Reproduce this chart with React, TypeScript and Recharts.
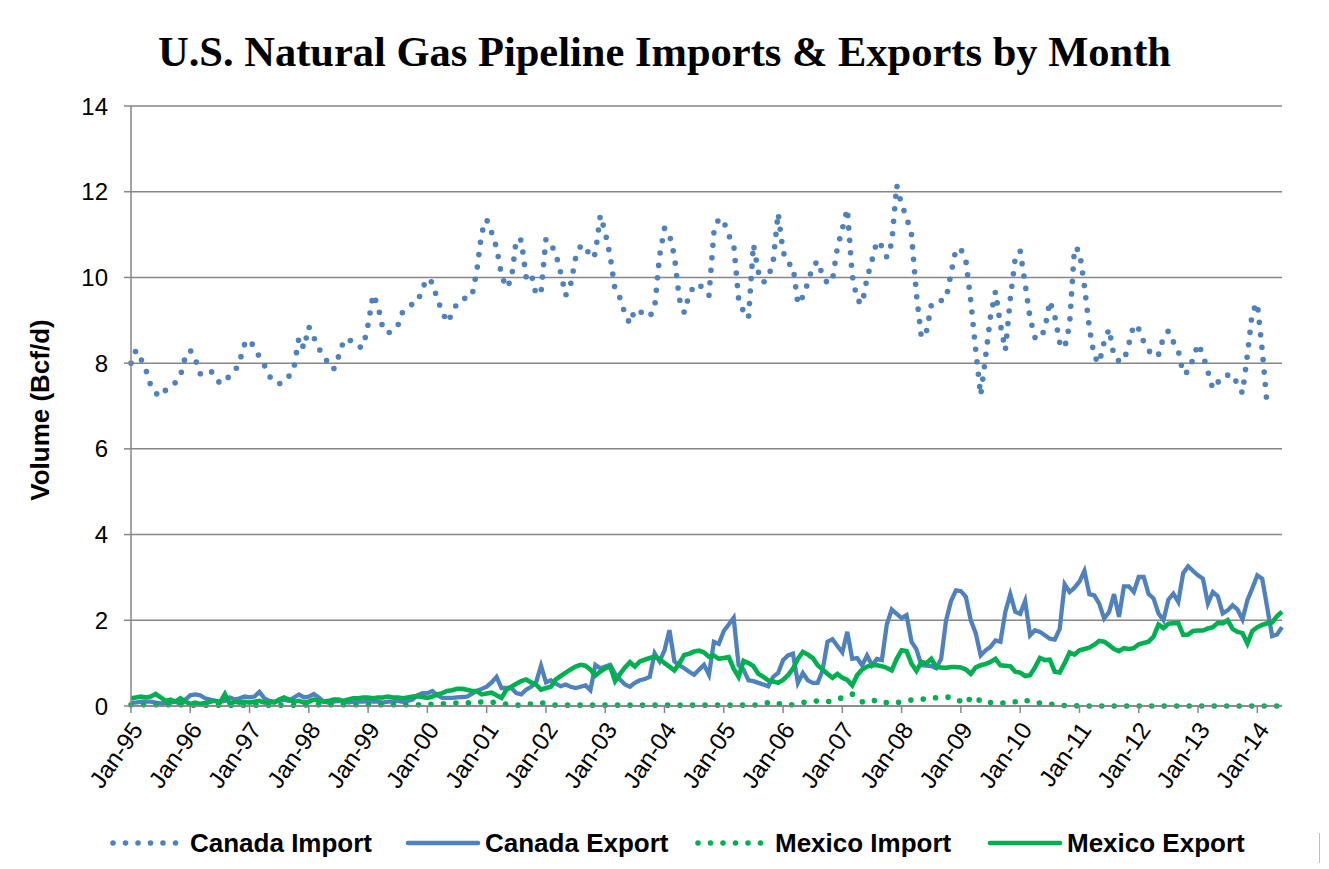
import React from "react";
import { LineChart, Line, XAxis, YAxis, CartesianGrid } from "recharts";

const years = ["95", "96", "97", "98", "99", "00", "01", "02", "03", "04", "05", "06", "07", "08", "09", "10", "11", "12", "13", "14"];
const monthNames = ["Jan", "Feb", "Mar", "Apr", "May", "Jun", "Jul", "Aug", "Sep", "Oct", "Nov", "Dec"];
const yTicks = [0, 2, 4, 6, 8, 10, 12, 14];

// Bcf/d, Jan-95 .. Jun-14
const canadaImport = [
  8.0, 8.3, 8.1, 7.85, 7.48, 7.3, 7.22, 7.37, 7.43, 7.55, 7.7, 8.15,
  8.3, 8.1, 7.75, 7.8, 7.83, 7.72, 7.52, 7.6, 7.7, 7.8, 8.05, 8.44,
  8.55, 8.35, 8.15, 7.95, 7.7, 7.55, 7.52, 7.55, 7.7, 7.9, 8.6, 8.35,
  8.85, 8.6, 8.35, 8.15, 8.0, 7.85, 8.15, 8.5, 8.58, 8.45, 8.37, 8.38,
  8.9, 9.6, 9.34, 8.8, 8.7, 8.75, 8.87, 9.2, 9.3, 9.38, 9.42, 9.75,
  9.98, 9.88, 9.5, 9.2, 8.95, 9.15, 9.4, 9.5, 9.52, 9.55, 10.15, 11.05,
  11.35, 11.05, 10.7, 10.05, 9.76, 9.95, 10.9, 10.87, 10.0, 10.1, 9.6, 9.65,
  10.9, 10.78, 10.55, 10.1, 9.58, 9.84, 10.45, 10.73, 10.74, 10.45, 10.55, 11.45,
  11.05, 10.5, 9.7, 9.52, 9.15, 8.92, 9.25, 9.2, 9.15, 9.08, 9.3, 10.5,
  11.15, 11.0, 10.5, 9.5, 9.18, 9.6, 9.8, 9.85, 9.7, 9.58, 11.05, 11.38,
  11.3, 10.98, 10.78, 9.5, 9.2, 9.05, 10.77, 10.13, 9.88, 10.0, 10.38, 11.5,
  10.6, 10.32, 10.28, 9.38, 9.55, 9.87, 10.25, 10.38, 10.05, 9.86, 9.94, 10.7,
  11.13, 11.6, 10.05, 9.48, 9.38, 9.98, 10.4, 10.85, 10.73, 10.47, 10.8, 12.15,
  11.7, 11.4, 11.0, 9.6, 8.6, 8.72, 9.35, 9.46, 9.46, 9.5, 10.1, 10.66,
  10.66, 10.4, 9.45, 8.3, 7.25, 8.15, 9.1, 9.67, 8.9, 8.3, 9.5, 10.45,
  10.62, 9.85, 9.05, 8.6, 8.56, 8.8, 9.45, 9.1, 8.48, 8.35, 8.9, 10.7,
  10.62, 9.8, 8.83, 8.15, 8.0, 8.5, 8.8, 8.15, 8.05, 8.05, 8.45, 8.9,
  8.8, 8.5, 8.3, 8.15, 8.2, 8.6, 8.75, 8.5, 8.3, 7.75, 7.8, 8.1,
  8.45, 8.2, 7.8, 7.4, 7.55, 7.7, 7.72, 7.74, 7.5, 7.3, 8.2, 9.2,
  9.4, 8.3, 7.0, null, null, null,
];

const canadaExport = [
  0.08, 0.08, 0.1, 0.1, 0.1, 0.08, 0.06, 0.07, 0.08, 0.1, 0.05, 0.15,
  0.25, 0.27, 0.25, 0.18, 0.15, 0.12, 0.1, 0.12, 0.2, 0.15, 0.18, 0.22,
  0.2, 0.22, 0.33, 0.18, 0.12, 0.1, 0.12, 0.15, 0.12, 0.2, 0.27, 0.2,
  0.22, 0.28, 0.2, 0.1, 0.08, 0.1, 0.12, 0.1, 0.08, 0.1, 0.1, 0.1,
  0.12, 0.1, 0.1, 0.08, 0.1, 0.1, 0.12, 0.1, 0.12, 0.15, 0.25, 0.3,
  0.3, 0.35, 0.25, 0.19, 0.19, 0.19, 0.2, 0.21, 0.22, 0.28, 0.35, 0.4,
  0.45, 0.55, 0.68, 0.42, 0.42, 0.42, 0.3, 0.27, 0.38, 0.45, 0.55, 0.94,
  0.55, 0.6, 0.52, 0.46, 0.5, 0.45, 0.42, 0.45, 0.48, 0.37, 0.96, 0.88,
  0.92, 0.96, 0.75, 0.62, 0.5, 0.45, 0.54, 0.6, 0.63, 0.68, 1.23, 1.04,
  1.3, 1.77, 1.04, 0.95, 0.88, 0.8, 0.73, 0.85, 0.96, 0.73, 1.5, 1.45,
  1.75, 1.9, 2.06, 0.95, 0.85, 0.6, 0.58, 0.54, 0.5, 0.46, 0.68, 0.77,
  1.07, 1.18, 1.22, 0.54, 0.77, 0.6, 0.54, 0.54, 0.83, 1.5, 1.56, 1.4,
  1.25, 1.73, 1.1, 1.12, 0.95, 1.18, 0.95, 1.1, 1.07, 1.9, 2.25, 2.15,
  2.05, 2.12, 1.5, 1.32, 0.95, 0.94, 0.93, 0.88, 1.1, 2.0, 2.45, 2.7,
  2.68, 2.55, 2.0, 1.7, 1.18, 1.3, 1.38, 1.53, 1.5, 2.2, 2.61, 2.2,
  2.15, 2.45, 1.65, 1.77, 1.73, 1.65, 1.57, 1.55, 1.8, 2.84, 2.66, 2.76,
  2.9, 3.15, 2.61, 2.58, 2.39, 2.04, 2.19, 2.61, 2.08, 2.79, 2.79, 2.66,
  3.01, 3.01, 2.61, 2.51, 2.16, 2.0, 2.48, 2.62, 2.43, 3.1, 3.26, 3.15,
  3.05, 2.97, 2.39, 2.66, 2.56, 2.16, 2.23, 2.35, 2.25, 2.02, 2.47, 2.75,
  3.05, 2.97, 2.3, 1.63, 1.67, 1.84,
];

const mexicoImport = [
  0.03, 0.03, 0.03, 0.03, 0.03, 0.03, 0.03, 0.03, 0.03, 0.03, 0.03, 0.03,
  0.02, 0.02, 0.02, 0.02, 0.02, 0.02, 0.02, 0.02, 0.02, 0.02, 0.02, 0.02,
  0.02, 0.02, 0.02, 0.02, 0.02, 0.02, 0.02, 0.02, 0.02, 0.02, 0.02, 0.02,
  0.03, 0.03, 0.03, 0.03, 0.03, 0.03, 0.03, 0.03, 0.03, 0.03, 0.03, 0.03,
  0.03, 0.03, 0.03, 0.03, 0.03, 0.03, 0.03, 0.03, 0.03, 0.03, 0.03, 0.03,
  0.03, 0.04, 0.05, 0.05, 0.06, 0.06, 0.07, 0.06, 0.07, 0.08, 0.1, 0.09,
  0.1, 0.09, 0.08, 0.06, 0.04, 0.03, 0.02, 0.02, 0.03, 0.05, 0.07, 0.08,
  0.05, 0.03, 0.02, 0.02, 0.02, 0.02, 0.02, 0.02, 0.02, 0.02, 0.02, 0.02,
  0.02, 0.02, 0.02, 0.02, 0.02, 0.02, 0.02, 0.02, 0.02, 0.02, 0.02, 0.02,
  0.02, 0.02, 0.02, 0.02, 0.02, 0.02, 0.02, 0.02, 0.02, 0.02, 0.02, 0.02,
  0.02, 0.02, 0.02, 0.02, 0.02, 0.02, 0.02, 0.03, 0.05, 0.08, 0.1, 0.06,
  0.03, 0.02, 0.03, 0.05, 0.08, 0.1, 0.1, 0.12, 0.12, 0.1, 0.12, 0.15,
  0.2, 0.25, 0.28, 0.2, 0.1, 0.12, 0.15, 0.1, 0.06, 0.08, 0.1, 0.08,
  0.1, 0.12, 0.14, 0.13, 0.15, 0.18, 0.2, 0.19, 0.2, 0.21, 0.2, 0.18,
  0.1, 0.05, 0.2, 0.22, 0.1, 0.06, 0.08, 0.1, 0.08, 0.06, 0.08, 0.1,
  0.15, 0.14, 0.1, 0.08, 0.07, 0.06, 0.05, 0.03, 0.02, 0.01, 0.01, 0.01,
  0, 0, 0, 0, 0, 0, 0, 0, 0, 0, 0, 0,
  0, 0, 0, 0, 0, 0, 0, 0, 0, 0, 0, 0,
  0, 0, 0, 0, 0, 0, 0, 0, 0, 0, 0, 0,
  0, 0, 0, 0, 0, 0,
];

const mexicoExport = [
  0.18, 0.2, 0.22, 0.2, 0.22, 0.28, 0.2, 0.12, 0.15, 0.1, 0.18, 0.1,
  0.05, 0.08, 0.05, 0.07, 0.1, 0.12, 0.08, 0.28, 0.05, 0.1, 0.08, 0.1,
  0.08, 0.1, 0.12, 0.08, 0.1, 0.08, 0.15, 0.2, 0.15, 0.1, 0.12, 0.08,
  0.1, 0.15, 0.12, 0.1, 0.12, 0.15, 0.15, 0.12, 0.15, 0.18, 0.18, 0.2,
  0.2, 0.18, 0.2, 0.2, 0.22, 0.2, 0.2, 0.18, 0.2, 0.22, 0.23, 0.21,
  0.19, 0.22, 0.27, 0.3, 0.35, 0.37, 0.4, 0.4, 0.38, 0.35, 0.35, 0.27,
  0.29, 0.31, 0.25, 0.19, 0.38, 0.45, 0.52, 0.58, 0.62, 0.55, 0.5, 0.38,
  0.42, 0.45, 0.62, 0.7, 0.78, 0.85, 0.92, 0.96, 0.94, 0.85, 0.71, 0.8,
  0.88, 0.92, 0.58, 0.75, 0.9, 1.02, 0.92, 1.04, 1.08, 1.12, 1.15, 1.1,
  1.0, 0.92, 0.83, 1.0, 1.19, 1.22, 1.27, 1.29, 1.25, 1.15, 1.18, 1.1,
  1.12, 1.14, 0.87, 0.68, 1.05, 1.0, 0.93, 0.75, 0.68, 0.6, 0.57, 0.54,
  0.61, 0.72, 0.87, 1.1, 1.26, 1.2, 1.12, 0.95, 0.85, 0.75, 0.66, 0.75,
  0.66, 0.61, 0.48, 0.72, 0.85, 0.92, 0.95, 0.95, 0.93, 0.89, 0.83, 1.1,
  1.3, 1.28, 0.99, 0.82, 1.03, 1.0, 1.1, 0.91, 0.9, 0.89, 0.91, 0.91,
  0.9, 0.85, 0.75, 0.9, 0.95, 0.98, 1.03, 1.1, 0.95, 0.94, 0.93, 0.8,
  0.78, 0.7, 0.72, 0.9, 1.12, 1.07, 1.08, 0.8, 0.78, 1.0, 1.25, 1.2,
  1.3, 1.33, 1.36, 1.43, 1.52, 1.5, 1.42, 1.33, 1.28, 1.35, 1.33, 1.35,
  1.44, 1.47, 1.5, 1.62, 1.9, 1.82, 1.92, 1.93, 1.94, 1.66, 1.67, 1.75,
  1.76, 1.76, 1.81, 1.84, 1.94, 1.93, 2.0, 1.8, 1.73, 1.7, 1.46, 1.75,
  1.84, 1.89, 1.93, 1.95, 2.1, 2.2,
];

const months: string[] = [];
years.forEach((y) => monthNames.forEach((m) => months.push(`${m}-${y}`)));

const data = canadaExport.map((_, i) => ({
  month: months[i],
  canadaImport: canadaImport[i],
  canadaExport: canadaExport[i],
  mexicoImport: mexicoImport[i],
  mexicoExport: mexicoExport[i],
}));

const BLUE = "#4F81BD";
const GREEN = "#00B050";
const AXIS = "#868686";
const FONT = "Arial, 'Liberation Sans', sans-serif";
const DOTS = "0 12.5";

function XTick({ x, y, payload }: any) {
  return (
    <text
      x={x + 6}
      y={y + 10}
      transform={`rotate(-55 ${x + 6} ${y + 10})`}
      textAnchor="end"
      dy="0.35em"
      fontSize={24}
      fontFamily={FONT}
      fill="#000"
    >
      {payload.value}
    </text>
  );
}

const legendItems = [
  { label: "Canada Import", color: BLUE, dotted: true, left: 95 },
  { label: "Canada Export", color: BLUE, dotted: false, left: 390 },
  { label: "Mexico Import", color: GREEN, dotted: true, left: 680 },
  { label: "Mexico Export", color: GREEN, dotted: false, left: 972 },
];

export default function App() {
  return (
    <div style={{ position: "relative", width: 1313, height: 855, fontFamily: FONT }}>
      <div
        style={{
          position: "absolute",
          top: 22,
          left: 0,
          width: 1313,
          textAlign: "center",
          fontFamily: "'Liberation Serif', 'DejaVu Serif', serif",
          fontWeight: "bold",
          fontSize: 42.5,
          lineHeight: "44px",
        }}
      >
        U.S. Natural Gas Pipeline Imports &amp; Exports by Month
      </div>
      <LineChart width={1313} height={855} data={data} margin={{ top: 98, right: 39, bottom: 57, left: 43 }}>
        <CartesianGrid vertical={false} stroke={AXIS} strokeWidth={1.5} />
        <XAxis
          dataKey="month"
          interval={11}
          height={100}
          tickSize={7}
          stroke={AXIS}
          strokeWidth={1.5}
          tick={<XTick />}
        />
        <YAxis
          width={80}
          domain={[0, 14]}
          ticks={yTicks}
          tickSize={7}
          tickMargin={16}
          stroke={AXIS}
          strokeWidth={1.5}
          tick={{ fontSize: 24, fill: "#000", fontFamily: FONT }}
          label={{
            content: () => (
              <text
                x={32}
                y={402}
                transform="rotate(-90 32 402)"
                textAnchor="middle"
                dominantBaseline="central"
                fontSize={26}
                fontWeight="bold"
                fontFamily={FONT}
              >
                Volume (Bcf/d)
              </text>
            ),
          }}
        />
        <Line
          dataKey="canadaImport"
          stroke={BLUE}
          strokeWidth={5.6}
          strokeDasharray={DOTS}
          strokeLinecap="round"
          dot={false}
          isAnimationActive={false}
        />
        <Line dataKey="canadaExport" stroke={BLUE} strokeWidth={4.3} dot={false} isAnimationActive={false} />
        <Line
          dataKey="mexicoImport"
          stroke={GREEN}
          strokeWidth={5.6}
          strokeDasharray={DOTS}
          strokeLinecap="round"
          dot={false}
          isAnimationActive={false}
        />
        <Line dataKey="mexicoExport" stroke={GREEN} strokeWidth={4.6} dot={false} isAnimationActive={false} />
      </LineChart>
      {legendItems.map((it) => (
        <div
          key={it.label}
          style={{ position: "absolute", top: 820, left: it.left, display: "flex", alignItems: "center", height: 30 }}
        >
          <svg width={84} height={12}>
            <line
              x1={10}
              x2={80}
              y1={6}
              y2={6}
              stroke={it.color}
              strokeWidth={it.dotted ? 5.6 : 4.6}
              strokeDasharray={it.dotted ? DOTS : undefined}
              strokeLinecap="round"
            />
          </svg>
          <span style={{ fontSize: 26, fontWeight: "bold", marginLeft: 3 }}>{it.label}</span>
        </div>
      ))}
      <div style={{ position: "absolute", left: 1311, top: 825, width: 1, height: 40, background: "#BFBFBF" }} />
    </div>
  );
}
